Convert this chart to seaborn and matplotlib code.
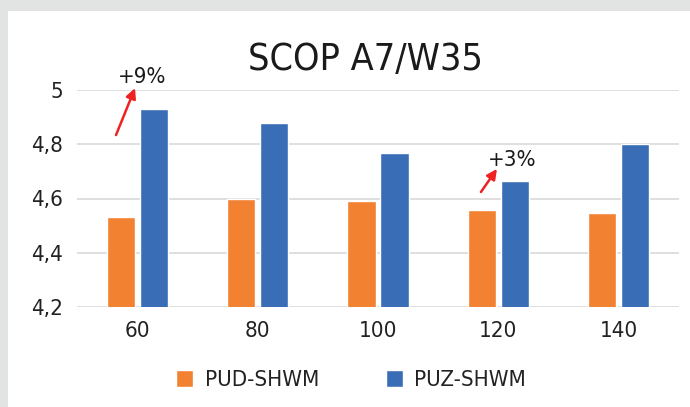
import matplotlib
matplotlib.use("Agg")
import matplotlib.pyplot as plt
import seaborn as sns
import pandas as pd
from matplotlib.patches import Rectangle

categories = ["60", "80", "100", "120", "140"]
pud_values = [4.53, 4.60, 4.59, 4.556, 4.548]
puz_values = [4.93, 4.878, 4.767, 4.663, 4.80]
series_names = ["PUD-SHWM", "PUZ-SHWM"]
y_ticks = [4.2, 4.4, 4.6, 4.8, 5.0]
y_tick_labels = ["4,2", "4,4", "4,6", "4,8", "5"]

df = pd.DataFrame({
    "cat": categories * 2,
    "val": pud_values + puz_values,
    "series": [series_names[0]] * 5 + [series_names[1]] * 5,
})

sns.set_theme(style="white")
plt.rcParams['font.family'] = ['Liberation Sans Narrow', 'DejaVu Sans']
plt.rcParams['font.stretch'] = 'condensed'

fig = plt.figure(figsize=(6.9, 4.07), dpi=100, facecolor="#e2e4e3")
fig.patches.append(Rectangle((8/690, 0), 1, 1 - 11/407, transform=fig.transFigure,
                             facecolor="white", edgecolor="none", zorder=-5))
ax = fig.add_axes([77/690, 1 - 307/407, (679-77)/690, (307-90)/407])
ax.set_facecolor("none")

palette = {"PUD-SHWM": "#F28131", "PUZ-SHWM": "#396EB6"}
sns.barplot(data=df, x="cat", y="val", hue="series", palette=palette, ax=ax,
            width=0.55, gap=0.15, saturation=1, legend=True)

ax.set_ylim(4.2, 5.0)
ax.set_xlim(-0.5, 4.5)
ax.set_yticks(y_ticks)
ax.set_yticklabels(y_tick_labels, fontsize=16, color="#222222")
ax.tick_params(axis="x", labelsize=16, colors="#222222", length=0, pad=10)
ax.tick_params(axis="y", length=0, pad=10)
ax.set_xlabel("")
ax.set_ylabel("")
for yt in y_ticks:
    ax.axhline(yt, color="#d9d9d9", lw=1.2, zorder=0)
for s in ax.spines.values():
    s.set_visible(False)

fig.text(365/690, 1 - 60/407, "SCOP A7/W35", ha="center", va="center", fontsize=27, color="#1a1a1a")

ax.get_legend().remove()
handles, labels = ax.get_legend_handles_labels()
leg = fig.legend(handles, labels, loc="center", bbox_to_anchor=(351/690, 1 - 380/407), ncol=2,
                 frameon=False, fontsize=16, handlelength=0.8, handleheight=0.8,
                 columnspacing=3.0, handletextpad=0.5, borderaxespad=0, borderpad=0)
for t in leg.get_texts():
    t.set_color("#222222")

ax.annotate("", xy=(-0.018, 5.007), xytext=(-0.176, 4.834), annotation_clip=False,
            arrowprops=dict(arrowstyle="-|>", color="#ee2222", lw=1.8, mutation_scale=15,
                            shrinkA=0, shrinkB=0))
ax.text(-0.159, 5.026, "+9%", fontsize=16, color="#1a1a1a", va="baseline", ha="left")
ax.annotate("", xy=(2.988, 4.709), xytext=(2.855, 4.624), annotation_clip=False,
            arrowprops=dict(arrowstyle="-|>", color="#ee2222", lw=1.8, mutation_scale=15,
                            shrinkA=0, shrinkB=0))
ax.text(2.914, 4.720, "+3%", fontsize=16, color="#1a1a1a", va="baseline", ha="left")

fig.savefig("out.png", dpi=100, facecolor=fig.get_facecolor())
